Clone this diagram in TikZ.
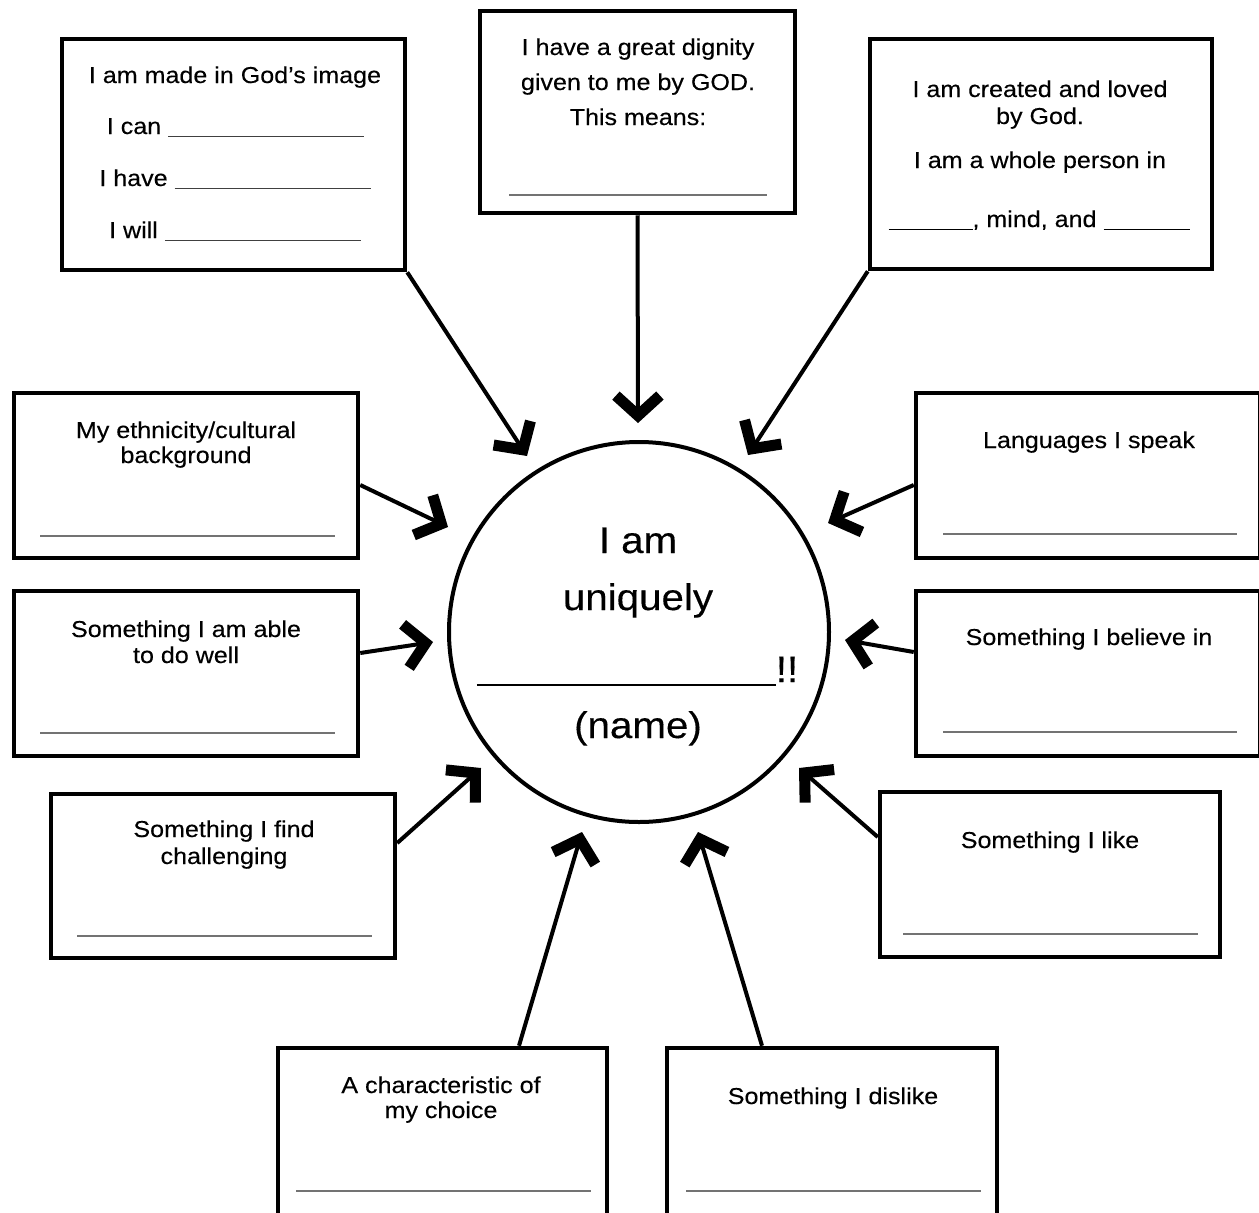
\documentclass[tikz,border=0pt]{standalone}
\usepackage{fontspec}
\setmainfont[FakeStretch=1.09,FakeBold=0.3]{Liberation Sans}
\usetikzlibrary{arrows.meta}
\begin{document}
\begin{tikzpicture}[x=1pt,y=-1pt,
  box/.style={draw, line width=4.5pt, inner sep=0pt, rectangle},
  txt/.style={font=\fontsize{23}{27}\selectfont, anchor=base, inner sep=0pt},
  big/.style={font=\fontsize{37}{44}\selectfont, anchor=base, inner sep=0pt},
  blank/.style={draw=black!55, line width=1.5pt},
  conn/.style={line width=4pt, -{Straight Barb[length=20pt,width=44pt,line width=11pt,sharp]}}
]
\path[use as bounding box, clip] (0,0) rectangle (1259,1213);
\fill[white] (0,0) rectangle (1259,1213);

% boxes
\node[box, minimum width=343pt, minimum height=231pt] (tl) at (233.5,154.5) {};
\node[box, minimum width=315pt, minimum height=202pt] (tm) at (637.5,112) {};
\node[box, minimum width=342pt, minimum height=230pt] (tr) at (1041,154) {};
\node[box, minimum width=344pt, minimum height=165pt] (l1) at (186,475.5) {};
\node[box, minimum width=344pt, minimum height=165pt] (l2) at (186,673.5) {};
\node[box, minimum width=344pt, minimum height=164pt] (l3) at (223,876) {};
\node[box, minimum width=344pt, minimum height=165pt] (r1) at (1088,475.5) {};
\node[box, minimum width=344pt, minimum height=165pt] (r2) at (1088,673.5) {};
\node[box, minimum width=340pt, minimum height=165pt] (r3) at (1050,874.5) {};
\node[box, minimum width=329pt, minimum height=182pt] (bl) at (442.5,1139) {};
\node[box, minimum width=330pt, minimum height=182pt] (br) at (832,1139) {};

% centre circle
\node[circle, draw, line width=4pt, minimum size=380pt, inner sep=0pt] (c) at (639,632) {};
\node[big] (c1) at (638,553) {I am};
\node[big] (c2) at (638,610) {uniquely};
\node[big] (c3) at (637.5,682) {\rule[-4pt]{299pt}{1.6pt}!!};
\node[big] (c4) at (638,738) {(name)};

% top-left
\node[txt] (tl1) at (235,83) {I am made in God’s image};
\node[txt] (tl2) at (235.5,134) {I can \textcolor{black!75}{\rule[-3pt]{196pt}{1.4pt}}};
\node[txt] (tl3) at (235,186) {I have \textcolor{black!75}{\rule[-3pt]{196pt}{1.4pt}}};
\node[txt] (tl4) at (235,238) {I will \textcolor{black!75}{\rule[-3pt]{196pt}{1.4pt}}};

% top-middle
\node[txt] (tm1) at (638,55) {I have a great dignity};
\node[txt] (tm2) at (638,90) {given to me by GOD.};
\node[txt] (tm3) at (638,125) {This means:};
\draw[blank] (509,195) -- (767,195);

% top-right
\node[txt] (tr1) at (1040,97) {I am created and loved};
\node[txt] (tr2) at (1040,124) {by God.};
\node[txt] (tr3) at (1040,168) {I am a whole person in};
\node[txt] (tr4) at (1039,227) {\rule[-3pt]{84pt}{1.4pt}, mind, and \rule[-3pt]{86pt}{1.4pt}};

% left boxes
\node[txt] (l1a) at (186,438) {My ethnicity/cultural};
\node[txt] (l1b) at (186,463) {background};
\draw[blank] (40,536) -- (335,536);
\node[txt] (l2a) at (186,637) {Something I am able};
\node[txt] (l2b) at (186,663) {to do well};
\draw[blank] (40,733) -- (335,733);
\node[txt] (l3a) at (224,837) {Something I find};
\node[txt] (l3b) at (224,864) {challenging};
\draw[blank] (77,936) -- (372,936);

% bottom boxes
\node[txt] (bla) at (441,1093) {A characteristic of};
\node[txt] (blb) at (441,1118) {my choice};
\draw[blank] (296,1191) -- (591,1191);
\node[txt] (bra) at (833,1104) {Something I dislike};
\draw[blank] (686,1191) -- (981,1191);

% right boxes
\node[txt] (r3a) at (1050,848) {Something I like};
\draw[blank] (903,934) -- (1198,934);
\node[txt] (r2a) at (1089,645) {Something I believe in};
\draw[blank] (943,732) -- (1237,732);
\node[txt] (r1a) at (1089,448) {Languages I speak};
\draw[blank] (943,534) -- (1237,534);

% arrow tips
\coordinate (ttl) at (527,456);
\coordinate (ttm) at (638,423);
\coordinate (ttr) at (748,455);
\coordinate (tl1p) at (448,527);
\coordinate (tl2p) at (433,642);
\coordinate (tl3p) at (481,768);
\coordinate (tblp) at (582,832);
\coordinate (tbrp) at (698,832);
\coordinate (tr3p) at (799,768);
\coordinate (tr2p) at (845,640);
\coordinate (tr1p) at (828,523);

% connectors
\draw[conn] (tl.south east) -- (ttl);
\draw[conn] (tm.south) -- (ttm);
\draw[conn] (tr.south west) -- (ttr);
\draw[conn] ([yshift=-9.5pt]l1.east) -- (tl1p);
\draw[conn] ([yshift=20.5pt]l2.east) -- (tl2p);
\draw[conn] ([yshift=33pt]l3.east) -- (tl3p);
\draw[conn] ([xshift=76.5pt]bl.north) -- (tblp);
\draw[conn] ([xshift=-70pt]br.north) -- (tbrp);
\draw[conn] ([yshift=37.5pt]r3.west) -- (tr3p);
\draw[conn] ([yshift=21.5pt]r2.west) -- (tr2p);
\draw[conn] ([yshift=-9.5pt]r1.west) -- (tr1p);
\end{tikzpicture}
\end{document}
